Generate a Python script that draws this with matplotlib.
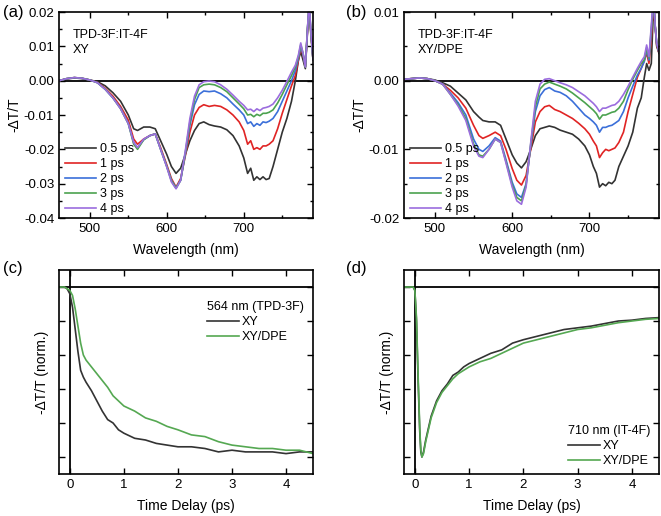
import matplotlib
matplotlib.use("Agg")
import matplotlib.pyplot as plt
from matplotlib.ticker import MultipleLocator, NullFormatter, FormatStrFormatter

plt.rcParams['font.family'] = ['Liberation Sans', 'DejaVu Sans']
plt.rcParams['font.size'] = 9.5
plt.rcParams['axes.unicode_minus'] = False

# ---- data ----
delays = ['0.5 ps', '1 ps', '2 ps', '3 ps', '4 ps']
colors = ['#333333', '#e02424', '#3b6fd9', '#4ba24f', '#9b6dde']

wl = [460, 470, 480, 490, 500, 510, 520, 530, 540, 550, 557, 562, 570, 578, 585,
      592, 600, 606, 612, 618, 624, 630, 636, 642, 648, 655, 662, 670, 678, 686,
      694, 700, 705, 709, 713, 717, 721, 725, 729, 733, 738, 744, 750, 756, 762,
      767, 771, 774, 777, 780, 783, 785, 787, 790]

# panel (a): XY
xy_05 = [0.0000, 0.0005, 0.0008, 0.0006, 0.0002, -0.0003, -0.0015, -0.0035, -0.0060, -0.0100,
         -0.0140, -0.0145, -0.0135, -0.0135, -0.0140, -0.0175, -0.0215, -0.0250, -0.0270, -0.0255,
         -0.0215, -0.0175, -0.0145, -0.0125, -0.0120, -0.0128, -0.0132, -0.0135, -0.0143, -0.0160,
         -0.0190, -0.0225, -0.0270, -0.0255, -0.0290, -0.0280, -0.0288, -0.0280, -0.0288, -0.0285,
         -0.0250, -0.0200, -0.0150, -0.0110, -0.0060, 0.0000, 0.0060, 0.0085, 0.0060, 0.0035,
         0.0150, 0.0210, 0.0140, 0.0060]
xy_1 = [0.0000, 0.0006, 0.0009, 0.0007, 0.0002, -0.0005, -0.0022, -0.0045, -0.0075, -0.0115,
        -0.0170, -0.0185, -0.0170, -0.0160, -0.0155, -0.0195, -0.0245, -0.0285, -0.0310, -0.0285,
        -0.0220, -0.0150, -0.0100, -0.0078, -0.0070, -0.0075, -0.0072, -0.0075, -0.0085, -0.0100,
        -0.0120, -0.0145, -0.0185, -0.0175, -0.0200, -0.0195, -0.0200, -0.0190, -0.0190, -0.0185,
        -0.0175, -0.0140, -0.0095, -0.0055, -0.0015, 0.0015, 0.0060, 0.0095, 0.0075, 0.0040,
        0.0155, 0.0215, 0.0145, 0.0060]
xy_2 = [0.0000, 0.0006, 0.0009, 0.0007, 0.0002, -0.0006, -0.0025, -0.0050, -0.0080, -0.0125,
        -0.0180, -0.0195, -0.0172, -0.0160, -0.0155, -0.0200, -0.0250, -0.0290, -0.0312, -0.0290,
        -0.0215, -0.0130, -0.0070, -0.0040, -0.0030, -0.0032, -0.0030, -0.0038, -0.0050, -0.0068,
        -0.0085, -0.0100, -0.0125, -0.0120, -0.0133, -0.0125, -0.0130, -0.0120, -0.0122, -0.0118,
        -0.0110, -0.0090, -0.0060, -0.0030, 0.0000, 0.0030, 0.0065, 0.0100, 0.0078, 0.0040,
        0.0158, 0.0220, 0.0148, 0.0060]
xy_3 = [0.0000, 0.0006, 0.0009, 0.0007, 0.0002, -0.0006, -0.0025, -0.0050, -0.0082, -0.0125,
        -0.0185, -0.0200, -0.0172, -0.0160, -0.0155, -0.0200, -0.0250, -0.0292, -0.0313, -0.0290,
        -0.0210, -0.0120, -0.0055, -0.0020, -0.0012, -0.0010, -0.0012, -0.0020, -0.0032, -0.0050,
        -0.0068, -0.0082, -0.0100, -0.0098, -0.0105, -0.0098, -0.0102, -0.0095, -0.0095, -0.0092,
        -0.0085, -0.0065, -0.0040, -0.0012, 0.0015, 0.0040, 0.0070, 0.0105, 0.0080, 0.0040,
        0.0160, 0.0225, 0.0150, 0.0060]
xy_4 = [0.0000, 0.0006, 0.0009, 0.0007, 0.0002, -0.0006, -0.0025, -0.0050, -0.0082, -0.0125,
        -0.0180, -0.0195, -0.0170, -0.0160, -0.0155, -0.0200, -0.0252, -0.0295, -0.0315, -0.0290,
        -0.0205, -0.0110, -0.0045, -0.0012, -0.0003, -0.0001, -0.0003, -0.0012, -0.0025, -0.0042,
        -0.0060, -0.0072, -0.0085, -0.0083, -0.0090, -0.0082, -0.0087, -0.0080, -0.0078, -0.0075,
        -0.0068, -0.0050, -0.0028, -0.0002, 0.0025, 0.0045, 0.0075, 0.0110, 0.0080, 0.0040,
        0.0160, 0.0230, 0.0150, 0.0060]

# panel (b): XY/DPE
dpe_05 = [0.0002, 0.0003, 0.0004, 0.0003, 0.0001, -0.0003, -0.0008, -0.0018, -0.0028, -0.0045,
          -0.0053, -0.0058, -0.0060, -0.0060, -0.0065, -0.0085, -0.0108, -0.0120, -0.0127, -0.0118,
          -0.0100, -0.0080, -0.0070, -0.0068, -0.0066, -0.0068, -0.0072, -0.0075, -0.0078, -0.0085,
          -0.0095, -0.0108, -0.0125, -0.0135, -0.0155, -0.0150, -0.0153, -0.0148, -0.0150, -0.0145,
          -0.0125, -0.0110, -0.0095, -0.0075, -0.0040, -0.0025, 0.0005, 0.0025, 0.0015, 0.0025,
          0.0110, 0.0080, 0.0050, 0.0040]
dpe_1 = [0.0002, 0.0003, 0.0004, 0.0003, 0.0000, -0.0005, -0.0014, -0.0025, -0.0040, -0.0065,
         -0.0080, -0.0084, -0.0080, -0.0075, -0.0080, -0.0100, -0.0128, -0.0145, -0.0152, -0.0138,
         -0.0100, -0.0060, -0.0045, -0.0038, -0.0036, -0.0042, -0.0045, -0.0050, -0.0055, -0.0062,
         -0.0070, -0.0078, -0.0088, -0.0095, -0.0112, -0.0105, -0.0100, -0.0102, -0.0100, -0.0098,
         -0.0090, -0.0075, -0.0045, -0.0020, 0.0005, 0.0018, 0.0030, 0.0040, 0.0025, 0.0060,
         0.0115, 0.0080, 0.0052, 0.0040]
dpe_2 = [0.0002, 0.0003, 0.0004, 0.0003, 0.0000, -0.0005, -0.0018, -0.0032, -0.0050, -0.0085,
         -0.0100, -0.0103, -0.0095, -0.0083, -0.0088, -0.0115, -0.0148, -0.0165, -0.0170, -0.0150,
         -0.0095, -0.0045, -0.0022, -0.0013, -0.0010, -0.0015, -0.0017, -0.0022, -0.0030, -0.0040,
         -0.0050, -0.0055, -0.0060, -0.0065, -0.0075, -0.0068, -0.0068, -0.0066, -0.0065, -0.0062,
         -0.0058, -0.0045, -0.0025, -0.0008, 0.0008, 0.0018, 0.0028, 0.0045, 0.0030, 0.0070,
         0.0118, 0.0080, 0.0054, 0.0041]
dpe_3 = [0.0002, 0.0003, 0.0004, 0.0003, 0.0000, -0.0005, -0.0020, -0.0035, -0.0055, -0.0092,
         -0.0108, -0.0110, -0.0100, -0.0085, -0.0090, -0.0118, -0.0152, -0.0170, -0.0175, -0.0152,
         -0.0092, -0.0038, -0.0012, -0.0005, -0.0002, -0.0005, -0.0008, -0.0012, -0.0018, -0.0025,
         -0.0032, -0.0038, -0.0043, -0.0048, -0.0056, -0.0050, -0.0050, -0.0048, -0.0046, -0.0045,
         -0.0040, -0.0030, -0.0013, 0.0002, 0.0015, 0.0025, 0.0030, 0.0048, 0.0033, 0.0075,
         0.0120, 0.0080, 0.0055, 0.0042]
dpe_4 = [0.0002, 0.0003, 0.0004, 0.0003, 0.0000, -0.0005, -0.0020, -0.0037, -0.0058, -0.0095,
         -0.0110, -0.0112, -0.0100, -0.0085, -0.0090, -0.0120, -0.0155, -0.0175, -0.0180, -0.0155,
         -0.0090, -0.0030, -0.0005, 0.0002, 0.0003, 0.0000, -0.0003, -0.0006, -0.0010, -0.0016,
         -0.0022, -0.0028, -0.0033, -0.0038, -0.0045, -0.0040, -0.0040, -0.0038, -0.0036, -0.0035,
         -0.0030, -0.0020, -0.0008, 0.0005, 0.0018, 0.0028, 0.0035, 0.0052, 0.0035, 0.0080,
         0.0125, 0.0080, 0.0055, 0.0042]

# panel (c): 564 nm kinetics
t_c = [-0.2, -0.1, -0.05, 0, 0.05, 0.1, 0.15, 0.2, 0.25, 0.3, 0.4, 0.5, 0.6, 0.7, 0.8, 0.9,
       1.0, 1.2, 1.4, 1.6, 1.8, 2.0, 2.25, 2.5, 2.75, 3.0, 3.25, 3.5, 3.75, 4.0, 4.25, 4.5]
c_xy = [1.0, 1.0, 0.99, 0.96, 0.88, 0.75, 0.62, 0.51, 0.47, 0.44, 0.39, 0.33, 0.27, 0.22,
        0.20, 0.16, 0.14, 0.11, 0.10, 0.08, 0.07, 0.06, 0.06, 0.05, 0.03, 0.04, 0.03, 0.03,
        0.03, 0.02, 0.03, 0.03]
c_dpe = [1.0, 1.0, 0.99, 0.98, 0.95, 0.87, 0.77, 0.67, 0.60, 0.57, 0.53, 0.49, 0.45, 0.41,
         0.36, 0.33, 0.30, 0.27, 0.23, 0.21, 0.18, 0.16, 0.13, 0.12, 0.09, 0.07, 0.06, 0.05,
         0.05, 0.04, 0.04, 0.02]

# panel (d): 710 nm kinetics
t_d = [-0.2, -0.1, -0.03, 0, 0.03, 0.06, 0.09, 0.11, 0.13, 0.16, 0.2, 0.25, 0.3, 0.4, 0.5,
       0.6, 0.7, 0.8, 0.9, 1.0, 1.2, 1.4, 1.6, 1.8, 2.0, 2.25, 2.5, 2.75, 3.0, 3.25, 3.5,
       3.75, 4.0, 4.25, 4.5]
d_xy = [1.0, 1.0, 1.0, 0.98, 0.80, 0.45, 0.15, 0.03, 0.0, 0.03, 0.10, 0.17, 0.24, 0.33,
        0.39, 0.43, 0.48, 0.50, 0.53, 0.55, 0.58, 0.61, 0.63, 0.67, 0.69, 0.71, 0.73, 0.75,
        0.76, 0.77, 0.785, 0.80, 0.805, 0.815, 0.82]
d_dpe = [1.0, 1.0, 1.0, 0.98, 0.82, 0.48, 0.17, 0.04, 0.0, 0.02, 0.09, 0.16, 0.23, 0.32,
         0.38, 0.42, 0.46, 0.49, 0.51, 0.53, 0.56, 0.58, 0.61, 0.64, 0.67, 0.69, 0.71, 0.73,
         0.75, 0.76, 0.775, 0.79, 0.80, 0.81, 0.815]


def style_axes(ax):
    ax.tick_params(which='both', direction='in', top=True, right=True, labelsize=9.5)
    ax.tick_params(which='major', length=4, width=1)
    ax.tick_params(which='minor', length=2, width=1)
    for s in ax.spines.values():
        s.set_linewidth(1.2)


fig = plt.figure(figsize=(6.61, 5.16), dpi=100)
ax_a = fig.add_axes([0.0893, 0.5775, 0.3843, 0.3992])
ax_b = fig.add_axes([0.6112, 0.5775, 0.3858, 0.3992])
ax_c = fig.add_axes([0.0893, 0.0814, 0.3843, 0.3953])
ax_d = fig.add_axes([0.6112, 0.0814, 0.3858, 0.3953])

spectra = [(ax_a, [xy_05, xy_1, xy_2, xy_3, xy_4], (-0.04, 0.02), 'XY'),
           (ax_b, [dpe_05, dpe_1, dpe_2, dpe_3, dpe_4], (-0.02, 0.01), 'XY/DPE')]

for ax, series, ylim, sample in spectra:
    ax.axhline(0, color='black', lw=1.3, zorder=1)
    for vals, lab, col in zip(series, delays, colors):
        ax.plot(wl, vals, color=col, lw=1.2, label=lab)
    ax.set_xlim(460, 790)
    ax.set_ylim(*ylim)
    ax.xaxis.set_major_locator(MultipleLocator(100))
    ax.xaxis.set_minor_locator(MultipleLocator(50))
    ax.yaxis.set_major_locator(MultipleLocator(0.01))
    ax.yaxis.set_minor_locator(MultipleLocator(0.005))
    ax.yaxis.set_major_formatter(FormatStrFormatter('%.2f'))
    ax.set_xlabel('Wavelength (nm)', fontsize=10, labelpad=6)
    ax.set_ylabel('-ΔT/T', fontsize=10, labelpad=2)
    ax.text(0.055, 0.92, 'TPD-3F:IT-4F\n' + sample, transform=ax.transAxes,
            fontsize=9, va='top', ha='left', linespacing=1.4)
    ax.legend(loc='lower left', bbox_to_anchor=(-0.01, -0.03), frameon=False, fontsize=9,
              handlelength=2.5, handletextpad=0.25, labelspacing=0.25, borderpad=0.2)
    style_axes(ax)

kinetics = [(ax_c, t_c, c_xy, c_dpe, '564 nm (TPD-3F)', 'upper left', (0.55, 0.89)),
            (ax_d, t_d, d_xy, d_dpe, '710 nm (IT-4F)', 'lower left', (0.61, -0.01))]

for ax, t, y1, y2, title, loc, anchor in kinetics:
    ax.axhline(1.0, color='black', lw=1.3, zorder=1)
    ax.axvline(0.0, color='black', lw=1.3, zorder=1)
    ax.plot(t, y1, color='#333333', lw=1.2, label='XY')
    ax.plot(t, y2, color='#55a852', lw=1.2, label='XY/DPE')
    ax.set_xlim(-0.2, 4.5)
    ax.set_ylim(-0.1, 1.1)
    ax.xaxis.set_major_locator(MultipleLocator(1))
    ax.yaxis.set_major_locator(MultipleLocator(0.2))
    ax.yaxis.set_major_formatter(NullFormatter())
    ax.set_xlabel('Time Delay (ps)', fontsize=10, labelpad=6)
    ax.set_ylabel('-ΔT/T (norm.)', fontsize=10, labelpad=4)
    ax.legend(loc=loc, bbox_to_anchor=anchor, frameon=False, fontsize=9,
              title=title, title_fontsize=9, alignment='left',
              handlelength=2.5, handletextpad=0.25, labelspacing=0.25, borderpad=0.2)
    style_axes(ax)

for lab, x, y in [('(a)', 0.004, 0.975), ('(b)', 0.523, 0.975),
                  ('(c)', 0.004, 0.48), ('(d)', 0.523, 0.48)]:
    fig.text(x, y, lab, fontsize=12, ha='left', va='center')

fig.savefig('out.png', dpi=100)
